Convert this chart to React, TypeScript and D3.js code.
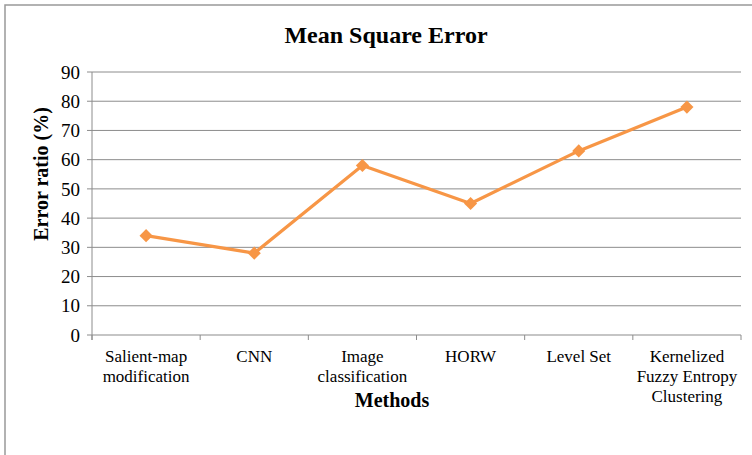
import React from 'react';
import * as d3 from 'd3';

// Chart data
const methods = [
  ['Salient-map', 'modification'],
  ['CNN'],
  ['Image', 'classification'],
  ['HORW'],
  ['Level Set'],
  ['Kernelized', 'Fuzzy Entropy', 'Clustering'],
];
const errorRatio = [34, 28, 58, 45, 63, 78];
const yTicks = [0, 10, 20, 30, 40, 50, 60, 70, 80, 90];

const W = 752;
const H = 455;
const margin = { left: 92, right: 11, top: 72, bottom: 120 };
const lineColor = '#F79646';
const gridColor = '#8c8c8c';
const font = 'Liberation Serif, serif';

const App = () => {
  const x = d3.scaleBand<number>()
    .domain(d3.range(methods.length))
    .range([margin.left, W - margin.right]);
  const y = d3.scaleLinear().domain([0, 90]).range([H - margin.bottom, margin.top]);

  const line = d3.line<number>()
    .x((_, i) => x(i)! + x.bandwidth() / 2)
    .y(d => y(d));

  const diamond = d3.symbol().type(d3.symbolDiamond2).size(110)()!;

  const boundaries = d3.range(methods.length + 1).map(i =>
    i < methods.length ? x(i)! : x(methods.length - 1)! + x.bandwidth());

  return (
    <svg width={W} height={H} style={{ position: 'absolute', left: 0, top: 0, background: '#fff', fontFamily: font }}>
      {/* outer frame */}
      <rect x={5} y={5} width={W + 10} height={H + 10} fill="none" stroke="#999" strokeWidth={1.5} />

      <text x={386} y={43} textAnchor="middle" fontSize={24} fontWeight="bold">Mean Square Error</text>

      {/* gridlines and y ticks */}
      {yTicks.map(t => (
        <g key={t}>
          <line x1={margin.left - 5} x2={W - margin.right} y1={y(t)} y2={y(t)}
            stroke={gridColor} strokeWidth={t === 0 ? 1.2 : 1} />
          <text x={margin.left - 12} y={y(t)} dy="0.35em" textAnchor="end" fontSize={19}>{t}</text>
        </g>
      ))}
      <line x1={margin.left} x2={margin.left} y1={y(90)} y2={y(0) + 5} stroke={gridColor} strokeWidth={1} />

      {/* x ticks */}
      {boundaries.map((bx, i) => (
        <line key={i} x1={bx} x2={bx} y1={y(0)} y2={y(0) + 5} stroke={gridColor} strokeWidth={1} />
      ))}

      {/* category labels */}
      {methods.map((lines, i) => (
        <text key={i} x={x(i)! + x.bandwidth() / 2} y={362} textAnchor="middle" fontSize={17}>
          {lines.map((l, j) => (
            <tspan key={j} x={x(i)! + x.bandwidth() / 2} dy={j === 0 ? 0 : 20}>{l}</tspan>
          ))}
        </text>
      ))}

      <text x={392} y={407} textAnchor="middle" fontSize={20} fontWeight="bold">Methods</text>
      <text transform={`translate(48, 174) rotate(-90)`} textAnchor="middle"
        fontSize={20} fontWeight="bold">Error ratio (%)</text>

      {/* series */}
      <path d={line(errorRatio)!} fill="none" stroke={lineColor} strokeWidth={3.2} strokeLinejoin="round" />
      {errorRatio.map((v, i) => (
        <path key={i} d={diamond} transform={`translate(${x(i)! + x.bandwidth() / 2}, ${y(v)})`}
          fill={lineColor} />
      ))}
    </svg>
  );
};

export default App;
